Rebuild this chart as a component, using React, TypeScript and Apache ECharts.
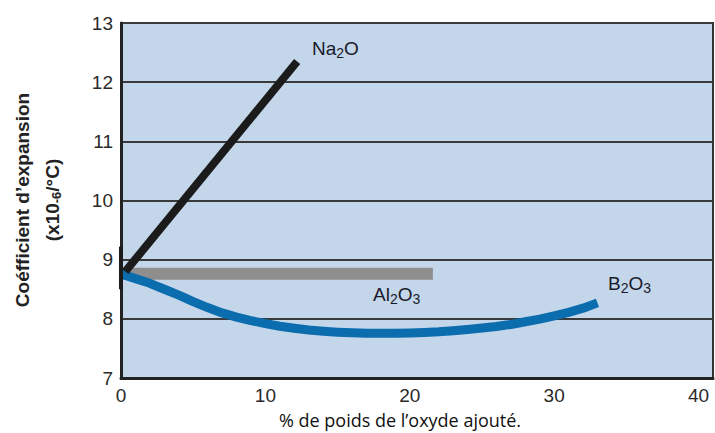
import React, { useEffect, useRef } from "react";
import * as echarts from "echarts";

const xTicks = [0, 10, 20, 30, 40];
const yTicks = [7, 8, 9, 10, 11, 12, 13];
const na2oData: [number, number][] = [[0.3, 8.8], [12.2, 12.35]];
const al2o3Data: [number, number][] = [[0, 8.76], [21.6, 8.76]];
const b2o3X = [0, 1, 2, 3, 4, 5, 6, 7, 8, 9, 10, 11, 12, 13, 14, 15, 16, 17, 18, 19, 20, 21, 22, 23, 24, 25, 26, 27, 28, 29, 30, 31, 32, 33];
const b2o3Y = [
  8.76, 8.68, 8.6, 8.5, 8.4, 8.29, 8.19, 8.1, 8.03, 7.97, 7.92, 7.875, 7.84, 7.81, 7.79, 7.775, 7.765,
  7.758, 7.755, 7.755, 7.76, 7.77, 7.78, 7.8, 7.82, 7.845, 7.87, 7.905, 7.95, 7.995, 8.05, 8.11, 8.18, 8.27,
];
const originMark: [number, number][] = [[0, 8.5], [0, 9.22]];

export default function App() {
  const ref = useRef<HTMLDivElement>(null);
  useEffect(() => {
    const chart = echarts.init(ref.current!, null, { renderer: "svg" });
    const font = "Liberation Sans, Arial, sans-serif";
    const chemRich = {
      a: { fontSize: 19, fontFamily: font, fill: "#1a1a2a" },
      s: { fontSize: 14, fontFamily: font, fill: "#1a1a2a", padding: [9, 0, 0, 0] },
    };
    const b2o3Data = b2o3X.map((x, i) => [x, b2o3Y[i]]);
    chart.setOption({
      animation: false,
      grid: {
        left: 121, top: 23, right: 2, bottom: 55,
        show: true, backgroundColor: "#c3d6ea", borderColor: "#333", borderWidth: 2,
      },
      xAxis: {
        type: "value", min: 0, max: 41, interval: 10,
        axisLine: { show: true, lineStyle: { color: "#222", width: 3 } },
        axisTick: { show: false },
        splitLine: { show: false },
        axisLabel: {
          color: "#2a2a2a", fontSize: 19, fontFamily: font, margin: 8,
          showMaxLabel: false,
          formatter: (v: number) => (xTicks.includes(v) ? String(v) : ""),
        },
      },
      yAxis: {
        type: "value", min: 7, max: 13, interval: 1,
        axisLine: { show: true, lineStyle: { color: "#222", width: 3 } },
        axisTick: { show: false },
        splitLine: { show: true, lineStyle: { color: "#3a3a3a", width: 2 } },
        axisLabel: {
          color: "#2a2a2a", fontSize: 19, fontFamily: font, margin: 8,
          formatter: (v: number) => (yTicks.includes(v) ? String(v) : ""),
        },
      },
      series: [
        { type: "line", data: al2o3Data, symbol: "none", lineStyle: { color: "#8e8e8e", width: 12, cap: "butt" }, z: 2 },
        {
          type: "line", data: b2o3Data, symbol: "none", smooth: false,
          lineStyle: { color: "#0b6cae", width: 9, cap: "butt", join: "round" }, z: 3,
        },
        { type: "line", data: na2oData, symbol: "none", lineStyle: { color: "#1b1b1b", width: 8, cap: "butt" }, z: 4 },
        { type: "line", data: originMark, symbol: "none", lineStyle: { color: "#1b1b1b", width: 4, cap: "butt" }, z: 5 },
      ],
      graphic: [
        {
          type: "text", x: 22, y: 200, rotation: Math.PI / 2,
          style: {
            text: "Coéfficient d’expansion", fontSize: 19, fontWeight: "bold", fontFamily: font,
            fill: "#222", align: "center", verticalAlign: "middle",
          },
        },
        {
          type: "text", x: 52, y: 200, rotation: Math.PI / 2,
          style: {
            text: "{a|(x10}{s|-6}{a|/°C)}", align: "center", verticalAlign: "middle",
            rich: {
              a: { fontSize: 19, fontWeight: "bold", fontFamily: font, fill: "#222" },
              s: { fontSize: 13, fontWeight: "bold", fontFamily: font, fill: "#222", padding: [9, 0, 0, 0] },
            },
          },
        },
        {
          type: "text", x: 400, y: 420,
          style: {
            text: "% de poids de l’oxyde ajouté.", fontSize: 18, fontFamily: "Open Sans, sans-serif",
            fill: "#111", align: "center", verticalAlign: "middle",
          },
        },
        {
          type: "text", x: 312, y: 48,
          style: { text: "{a|Na}{s|2}{a|O}", verticalAlign: "middle", rich: chemRich },
        },
        {
          type: "text", x: 373, y: 294,
          style: { text: "{a|Al}{s|2}{a|O}{s|3}", verticalAlign: "middle", rich: chemRich },
        },
        {
          type: "text", x: 608, y: 283,
          style: { text: "{a|B}{s|2}{a|O}{s|3}", verticalAlign: "middle", rich: chemRich },
        },
      ],
    });
    return () => chart.dispose();
  }, []);
  return <div ref={ref} style={{ width: 715, height: 433, position: "absolute", left: 0, top: 0 }} />;
}
